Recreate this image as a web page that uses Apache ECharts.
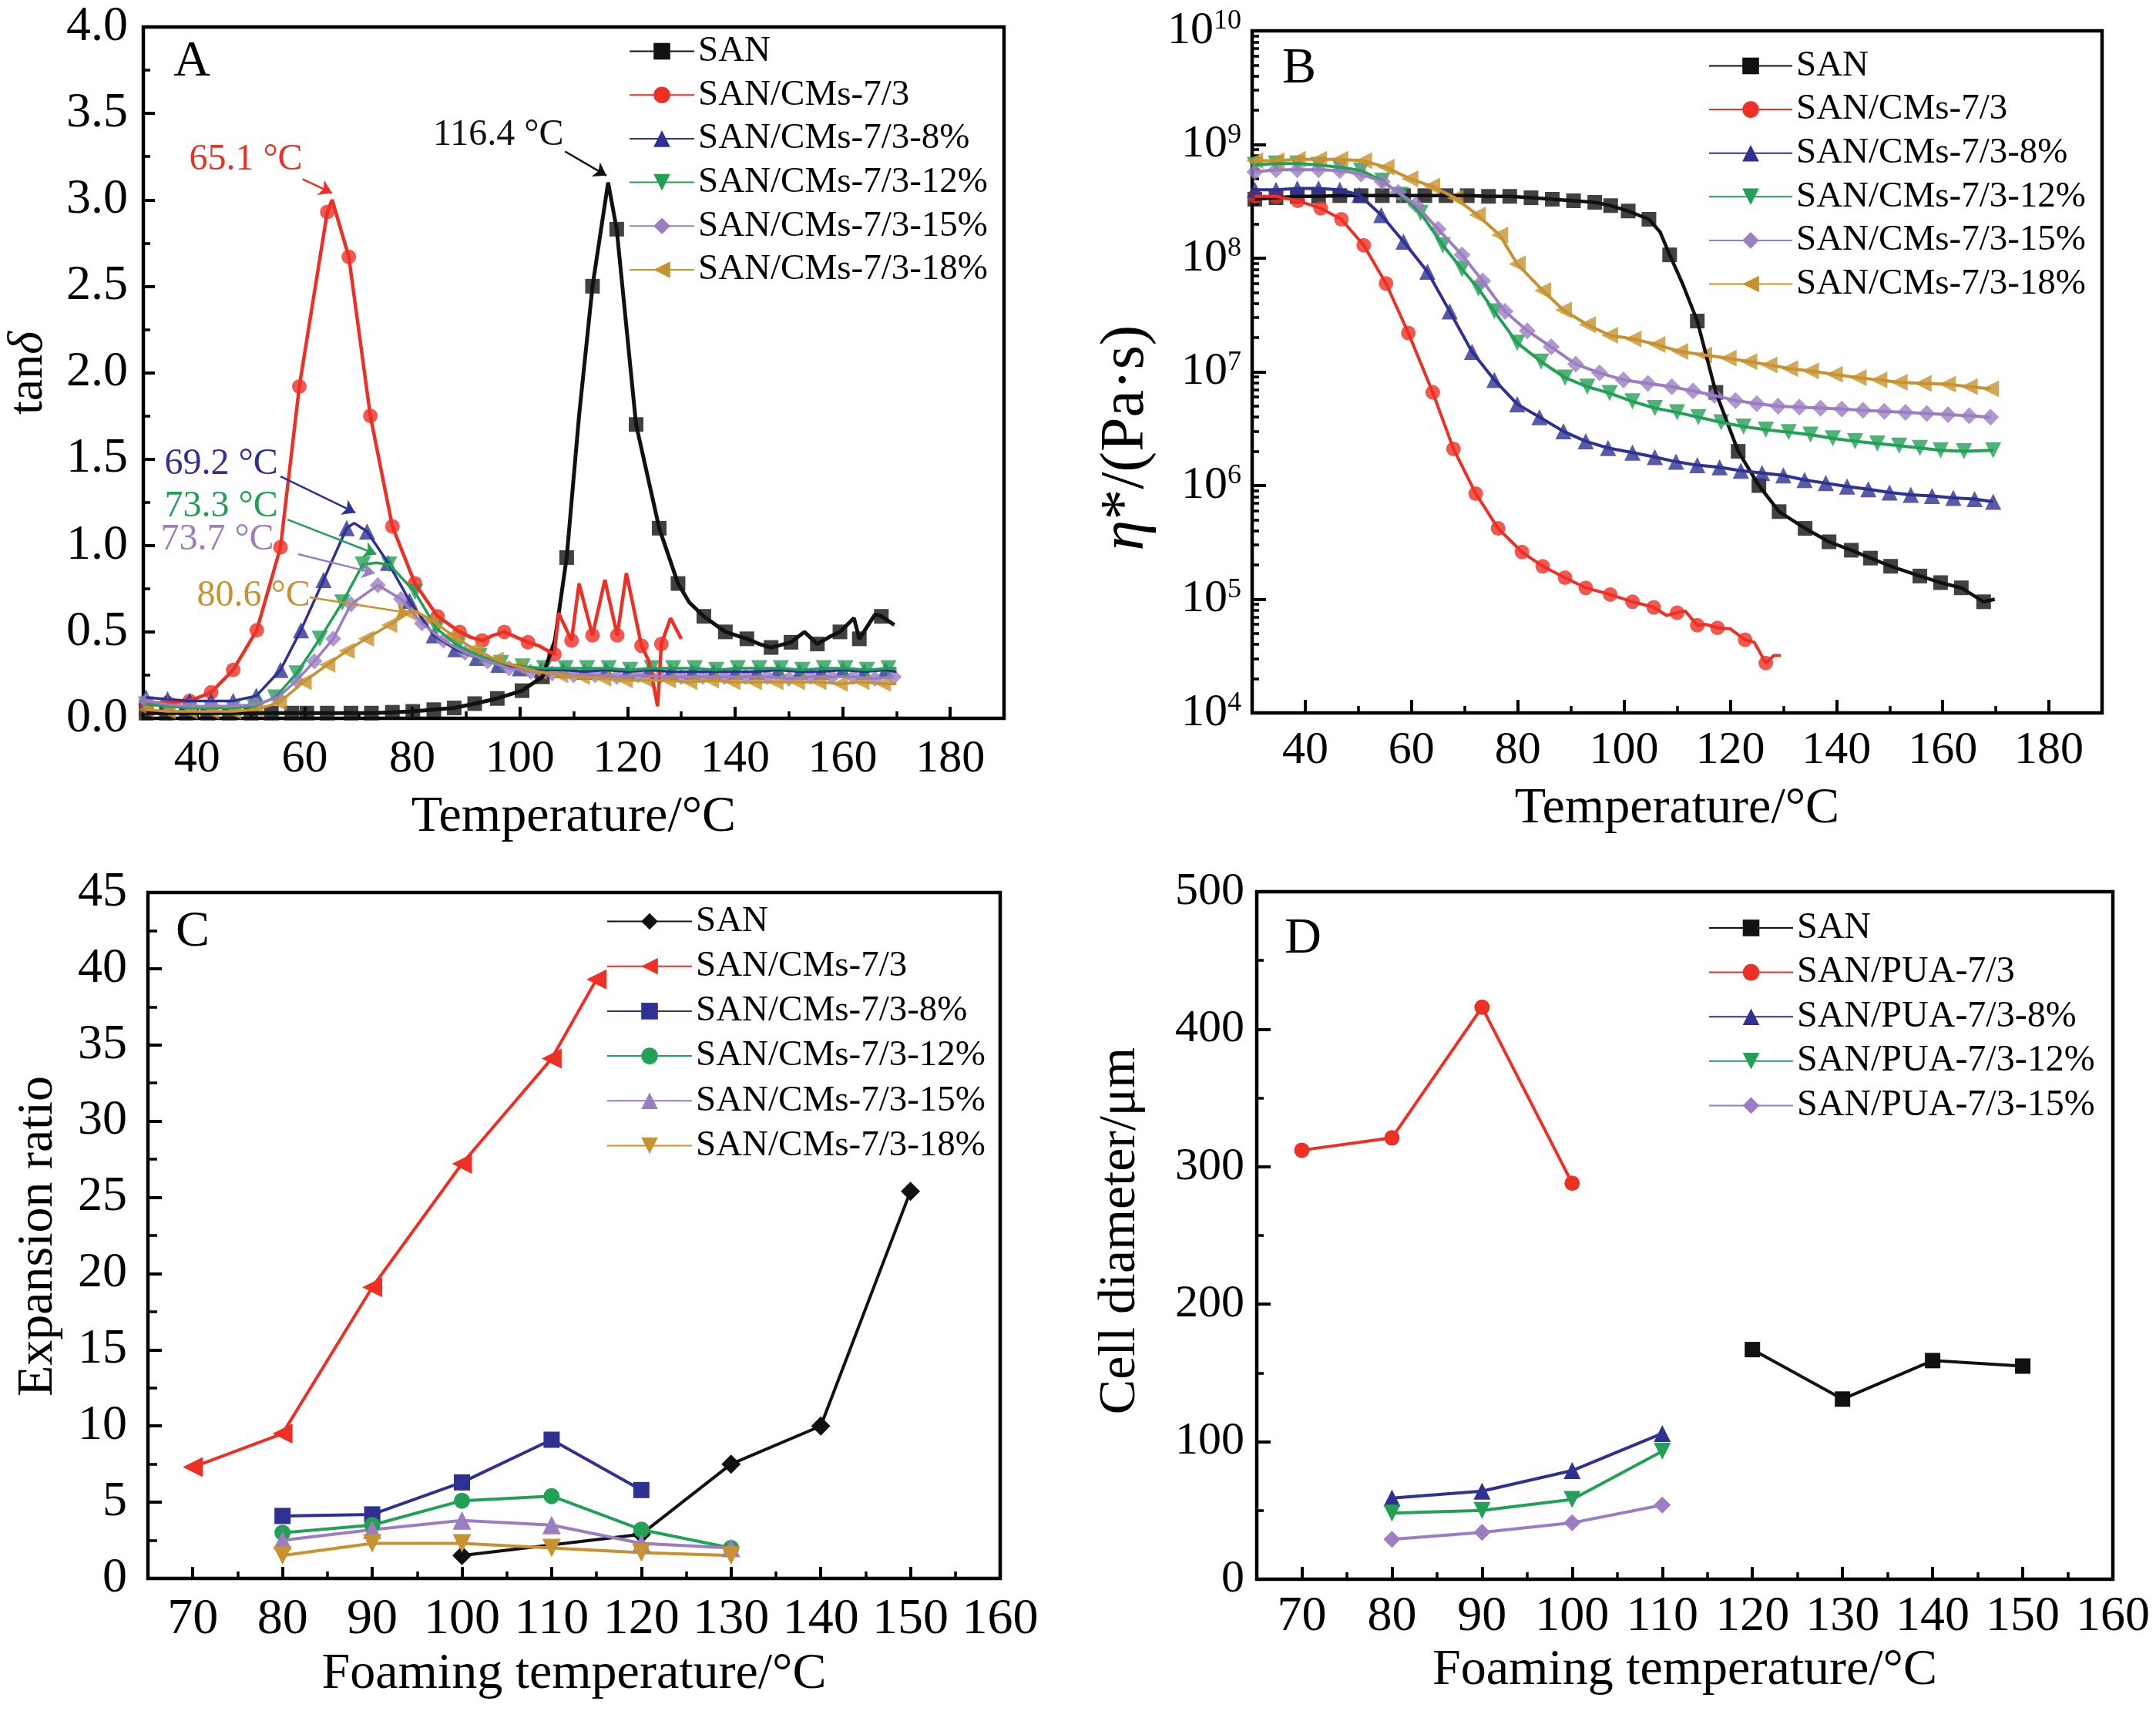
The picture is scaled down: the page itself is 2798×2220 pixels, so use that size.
<!DOCTYPE html>
<html><head><meta charset="utf-8">
<script src="https://cdn.jsdelivr.net/npm/echarts@6/dist/echarts.min.js"></script>
<style>html,body{margin:0;padding:0;background:#fff}#c{width:2798px;height:2220px}</style>
</head><body><div id="c"></div>
<script>
// ---------------- Panel A : tan(delta) vs temperature ----------------
const A_SAN_marks = [[30.5,0.03],[34.3,0.03],[38,0.03],[42,0.03],[46,0.03],[50,0.03],[53.8,0.03],[57.6,0.03],[60.4,0.03],[64.2,0.03],[68.6,0.03],[72.4,0.03],[76.3,0.035],[80.1,0.04],[84,0.05],[87.8,0.06],[91.6,0.085],[95.8,0.115],[100.4,0.16],[104.2,0.24],[108.7,0.93],[113.5,2.5],[118,2.83],[121.6,1.7],[125.9,1.1],[129.4,0.78],[134.2,0.59],[138.2,0.5],[142.2,0.46],[146.7,0.41],[150.4,0.44],[155.3,0.43],[159.5,0.5],[163.1,0.46],[167.2,0.59]];
const A_SAN_extra = [[106.5,0.45],[111,1.75],[116.4,3.1],[131.5,0.67],[144.5,0.43],[152.9,0.5],[157.5,0.47],[162.1,0.58],[166,0.6],[169.6,0.54]];
const A_R_marks = [[30.5,0.09],[34.5,0.09],[38.6,0.1],[42.6,0.15],[46.7,0.28],[51.1,0.51],[55.5,0.99],[59,1.92],[64.2,2.93],[68.2,2.67],[72.2,1.75],[76.3,1.11],[80.5,0.78],[84.7,0.59],[88.8,0.5],[93,0.45],[97.1,0.5],[101.5,0.44],[106.4,0.37],[109.6,0.45],[113.5,0.48],[118.1,0.48],[122.6,0.42],[126.3,0.43]];
const A_R_extra = [[65.1,3.0],[90.8,0.47],[95,0.48],[99.3,0.47],[103.5,0.42],[107.2,0.61],[111,0.78],[115.8,0.8],[119.8,0.84],[124,0.33],[125.6,0.07],[128,0.58],[130,0.46]];
const A_B_marks = [[30.5,0.12],[34.5,0.11],[38.6,0.1],[42.6,0.1],[46.7,0.1],[51,0.13],[55.5,0.28],[59.3,0.51],[63.5,0.8],[67.8,1.1],[71.6,1.08],[75.5,0.9],[79.5,0.68],[84,0.48],[88,0.4],[92,0.35],[96,0.31],[100,0.29],[104,0.28],[108,0.28],[112,0.27],[116,0.28],[120,0.27],[124,0.28],[128,0.27],[132,0.27],[136,0.27],[140,0.27],[144,0.27],[148,0.28],[152,0.27],[156,0.27],[160,0.28],[164,0.27],[168,0.28]];
const A_B_extra = [[69.2,1.13],[170,0.27]];
const A_G_marks = [[30.5,0.08],[34.5,0.07],[38.6,0.06],[42.6,0.06],[46.7,0.06],[50.6,0.07],[54.5,0.12],[58.5,0.26],[62.8,0.46],[67,0.67],[70.8,0.89],[75.7,0.89],[80.5,0.73],[84.5,0.52],[88.5,0.42],[92.5,0.36],[96.5,0.32],[100.5,0.3],[104.5,0.29],[108.5,0.29],[112.5,0.29],[116.5,0.29],[120.5,0.28],[124.5,0.29],[128.5,0.29],[132.5,0.29],[136.5,0.28],[140.5,0.29],[144.5,0.29],[148.5,0.29],[152.5,0.28],[156.5,0.29],[160.5,0.29],[164.5,0.28],[168.5,0.29]];
const A_G_extra = [[73.3,0.9],[170,0.29]];
const A_P_marks = [[30.5,0.1],[34.5,0.08],[38.6,0.07],[42.6,0.07],[46.7,0.07],[50.8,0.08],[55,0.12],[58.5,0.22],[61.8,0.33],[65.3,0.46],[68.6,0.66],[73.6,0.77],[77.9,0.69],[81.8,0.55],[85.8,0.45],[89.8,0.38],[94,0.33],[98,0.29],[102,0.27],[106,0.26],[110,0.25],[114,0.25],[118,0.24],[122,0.25],[126,0.24],[130,0.24],[134,0.24],[138,0.24],[142,0.24],[146,0.24],[150,0.23],[154,0.24],[158,0.24],[162,0.24],[166,0.23],[169.5,0.24]];
const A_P_extra = [];
const A_Y_marks = [[30.5,0.05],[34.5,0.04],[38.6,0.04],[42.6,0.04],[46.7,0.04],[50.8,0.05],[55.2,0.09],[59.8,0.21],[64.2,0.31],[67.8,0.39],[71.4,0.46],[75.7,0.54],[79.3,0.61],[83.5,0.57],[87.5,0.48],[91.5,0.4],[95.5,0.34],[99.5,0.3],[103.5,0.27],[107.5,0.25],[111.5,0.24],[115.5,0.23],[119.5,0.22],[123.5,0.22],[127.5,0.22],[131.5,0.21],[135.5,0.22],[139.5,0.21],[143.5,0.21],[147.5,0.21],[151.5,0.21],[155.5,0.21],[159.5,0.2],[163.5,0.21],[167.5,0.2]];
const A_Y_extra = [[80.6,0.62],[170,0.2]];
const A_X_TICKS = [40,60,80,100,120,140,160,180];
const A_Y_TICKS = [0,0.5,1,1.5,2,2.5,3,3.5,4];
// peak annotations: text, text anchor, arrow start, arrow end (data space)
const A_ANN_TEXT = ['116.4 °C','65.1 °C','69.2 °C','73.3 °C','73.7 °C','80.6 °C'];
const A_ANN_AT = [[96.0,3.376],[49.05,3.233],[44.5,1.47],[44.5,1.226],[43.75,1.035],[50.5,0.709]];
const A_ANN_FROM = [[108.4,3.28],[59.6,3.12],[55.5,1.4],[56.8,1.15],[58.75,0.95],[60.9,0.70]];
const A_ANN_TO = [[116.1,3.14],[65.05,3.04],[69.4,1.19],[73.3,0.95],[73.0,0.84],[79.3,0.61]];

// ---------------- Panel B : complex viscosity vs temperature ----------------
const B_SAN_marks = [[30.5,3.3e8],[34.5,3.4e8],[38.5,3.5e8],[42.5,3.5e8],[46.5,3.55e8],[50.5,3.55e8],[54.5,3.55e8],[58.5,3.55e8],[62.5,3.55e8],[66.5,3.55e8],[70.5,3.55e8],[74.5,3.5e8],[78.5,3.5e8],[82.5,3.4e8],[86.5,3.3e8],[90.5,3.2e8],[94.5,3.1e8],[97.5,2.9e8],[100.8,2.6e8],[104.7,2.2e8],[108.6,1.07e8],[113.8,2.8e7],[117.3,6.6e6],[121.5,2.0e6],[125.4,1.0e6],[129.2,5.9e5],[134.1,4.2e5],[138.6,3.2e5],[142.8,2.7e5],[146.4,2.3e5],[150.2,1.95e5],[155.7,1.6e5],[159.6,1.4e5],[163.5,1.26e5],[167.7,9.5e4]];
const B_SAN_extra = [[106.8,1.7e8],[111,6.0e7],[169.8,1.0e5]];
const B_R_marks = [[30.5,3.5e8],[34.5,3.5e8],[38.6,3.2e8],[42.9,2.75e8],[46.8,2.2e8],[51,1.3e8],[55.2,6.0e7],[59.4,2.2e7],[64,6.6e6],[67.9,2.1e6],[72.1,8.5e5],[76.3,4.2e5],[80.8,2.6e5],[84.7,1.95e5],[88.9,1.55e5],[92.8,1.26e5],[97.4,1.1e5],[101.6,9.5e4],[105.6,8.5e4],[110,7.6e4],[113.8,5.9e4],[117.6,5.6e4],[122.8,4.4e4],[126.7,2.75e4]];
const B_R_extra = [[108,7.2e4],[111.5,7.9e4],[115.5,6.0e4],[120,5.5e4],[124.5,4.2e4],[128.2,3.2e4],[129.5,3.2e4]];
const B_B_marks = [[30.5,4.0e8],[34.5,4.0e8],[38.5,4.1e8],[42.5,4.1e8],[46.5,4.0e8],[50.2,3.6e8],[54.3,2.4e8],[58.5,1.4e8],[63,7.6e7],[67.2,3.4e7],[71.4,1.5e7],[75.6,8.5e6],[79.9,5.2e6],[84.1,4.0e6],[88.6,3.0e6],[92.8,2.45e6],[97,2.14e6],[101.6,1.95e6],[105.8,1.78e6],[109.8,1.62e6],[113.8,1.51e6],[118,1.45e6],[122,1.35e6],[126,1.29e6],[130,1.23e6],[134,1.12e6],[138,1.05e6],[142,9.8e5],[146,9.3e5],[150,8.7e5],[154,8.3e5],[158,8.1e5],[162,7.8e5],[166,7.6e5],[169.5,7.2e5]];
const B_G_marks = [[30.5,6.6e8],[34.5,6.8e8],[38.5,6.8e8],[42.5,6.6e8],[46.5,6.3e8],[50.5,5.9e8],[54.5,4.8e8],[58,3.6e8],[61.7,2.5e8],[65.9,1.3e8],[69.5,8.0e7],[72.6,5.4e7],[75.6,3.4e7],[79.9,1.8e7],[84.4,1.23e7],[88.9,8.9e6],[93.1,7.4e6],[97.3,6.5e6],[101.6,5.5e6],[105.8,4.8e6],[110,4.4e6],[114,4.0e6],[118.3,3.6e6],[122.5,3.3e6],[126.7,3.1e6],[131,2.95e6],[135.1,2.8e6],[139.3,2.6e6],[143.5,2.45e6],[147.7,2.34e6],[151.8,2.24e6],[155.7,2.14e6],[159.6,2.04e6],[164,2.0e6],[169.5,2.04e6]];
const B_P_marks = [[30.5,5.75e8],[34.5,6.0e8],[38.5,6.0e8],[42.5,6.0e8],[46.5,5.9e8],[50.5,5.5e8],[54.5,4.7e8],[57.5,3.8e8],[60.8,2.95e8],[65,1.8e8],[69.5,1.07e8],[73.4,6.3e7],[77.6,3.4e7],[81.8,2.3e7],[86.3,1.66e7],[90.9,1.17e7],[95.4,9.8e6],[99.9,8.5e6],[104.5,7.9e6],[109,7.4e6],[113,6.8e6],[117,6.2e6],[121,5.6e6],[125,5.25e6],[129,5.0e6],[133,4.9e6],[137,4.8e6],[141,4.7e6],[145,4.6e6],[149,4.5e6],[153,4.4e6],[157,4.3e6],[161,4.2e6],[165,4.1e6],[169,4.0e6]];
const B_Y_marks = [[30.5,7.2e8],[34.5,7.2e8],[38.5,7.4e8],[42.5,7.4e8],[46.5,7.4e8],[51,7.2e8],[55.2,6.3e8],[59.7,5.0e8],[63.8,4.3e8],[68.2,3.4e8],[72.4,2.4e8],[76.6,1.6e8],[79.9,8.9e7],[84.7,5.2e7],[88.6,3.5e7],[93.1,2.6e7],[97.3,2.1e7],[101.7,1.95e7],[106.2,1.74e7],[110.5,1.51e7],[115,1.41e7],[119.6,1.32e7],[123.5,1.23e7],[127.3,1.15e7],[131.2,1.07e7],[135.1,1.02e7],[139.6,9.5e6],[144.1,8.9e6],[148,8.5e6],[151.8,8.1e6],[156.3,7.9e6],[160.9,7.8e6],[165,7.4e6],[169,7.1e6]];
const B_X_TICKS = [40,60,80,100,120,140,160,180];

// ---------------- Panel C : expansion ratio vs foaming temperature ----------------
const C_SAN = [[100,1.5],[120,2.9],[130,7.5],[140,10.0],[150,25.4]];
const C_R = [[70,7.3],[80,9.5],[90,19.1],[100,27.2],[110,34.1],[115,39.3]];
const C_B = [[80,4.1],[90,4.2],[100,6.3],[110,9.1],[120,5.8]];
const C_G = [[80,3.0],[90,3.5],[100,5.1],[110,5.4],[120,3.2],[130,2.0]];
const C_P = [[80,2.5],[90,3.2],[100,3.8],[110,3.5],[120,2.3],[130,2.0]];
const C_Y = [[80,1.5],[90,2.3],[100,2.3],[110,2.0],[120,1.7],[130,1.5]];
const CD_X_TICKS = [70,80,90,100,110,120,130,140,150,160];
const C_Y_TICKS = [0,5,10,15,20,25,30,35,40,45];

// ---------------- Panel D : cell diameter vs foaming temperature ----------------
const D_SAN = [[120,167],[130,131],[140,159],[150,155]];
const D_R = [[70,312],[80,321],[90,416],[100,288]];
const D_B = [[80,59],[90,64],[100,79],[110,106]];
const D_G = [[80,48],[90,50],[100,58],[110,93]];
const D_P = [[80,29],[90,34],[100,41],[110,54]];
const D_Y_TICKS = [0,100,200,300,400,500];

const NAMES_ABC = ['SAN','SAN/CMs-7/3','SAN/CMs-7/3-8%','SAN/CMs-7/3-12%','SAN/CMs-7/3-15%','SAN/CMs-7/3-18%'];
const NAMES_D = ['SAN','SAN/PUA-7/3','SAN/PUA-7/3-8%','SAN/PUA-7/3-12%','SAN/PUA-7/3-15%'];

// ---------------- styling ----------------
const FF = '"Liberation Serif","Times New Roman",serif';
const COL = ['#111111','#ee2f24','#2e3192','#22a056','#9b7ec2','#c7922f'];
const BLACK = '#000';

function range(a, b, s) { const r = []; for (let v = a; v <= b + 1e-9; v += s) r.push(+v.toFixed(6)); return r; }

const chart = echarts.init(document.getElementById('c'), null, {renderer: 'canvas'});

const grids = [
  {left: 186, top: 35, width: 1117, height: 897},
  {left: 1625, top: 40, width: 1103, height: 885},
  {left: 192, top: 1158, width: 1106, height: 890},
  {left: 1631, top: 1157, width: 1111, height: 892}
].map(g => Object.assign({show: true, borderColor: BLACK, borderWidth: 4.5, backgroundColor: 'transparent'}, g));

function xMain(gi, min, max, ticks, fs, margin, name, gap, tlen) {
  return {type: 'value', gridIndex: gi, min, max, position: 'bottom',
    axisLine: {show: false}, splitLine: {show: false},
    axisTick: {show: true, inside: true, length: tlen, lineStyle: {color: BLACK, width: 4}, customValues: ticks},
    axisLabel: {show: true, customValues: ticks, fontSize: fs, fontFamily: FF, color: BLACK, margin},
    name, nameLocation: 'middle', nameGap: gap, nameTextStyle: {fontSize: 66, fontFamily: FF, color: BLACK}};
}
function xMinor(gi, min, max, ticks, tlen) {
  return {type: 'value', gridIndex: gi, min, max, position: 'bottom',
    axisLine: {show: false}, splitLine: {show: false}, axisLabel: {show: false},
    axisTick: {show: true, inside: true, length: tlen, lineStyle: {color: BLACK, width: 3.5}, customValues: ticks}};
}
function yMain(gi, min, max, ticks, fs, margin, tlen, fmt) {
  return {type: 'value', gridIndex: gi, min, max, position: 'left',
    axisLine: {show: false}, splitLine: {show: false},
    axisTick: {show: true, inside: true, length: tlen, lineStyle: {color: BLACK, width: 4}, customValues: ticks},
    axisLabel: {show: true, customValues: ticks, fontSize: fs, fontFamily: FF, color: BLACK, margin, formatter: fmt}};
}
function yMinor(gi, min, max, ticks, tlen) {
  return {type: 'value', gridIndex: gi, min, max, position: 'left',
    axisLine: {show: false}, splitLine: {show: false}, axisLabel: {show: false},
    axisTick: {show: true, inside: true, length: tlen, lineStyle: {color: BLACK, width: 3.5}, customValues: ticks}};
}

// minor tick positions for the log axis of panel B (drawn on a hidden linear axis in decades)
const B_MINOR = [];
for (let e = 4; e < 10; e++) for (let k = 2; k <= 9; k++) B_MINOR.push(e + Math.log10(k));

const xAxes = [
  xMain(0, 30, 190, A_X_TICKS, 60, 23, 'Temperature/°C', 96, 15),
  xMinor(0, 30, 190, range(50, 170, 20), 9),
  xMain(1, 30, 190, B_X_TICKS, 60, 19, 'Temperature/°C', 92, 17),
  xMinor(1, 30, 190, range(50, 170, 20), 9),
  xMain(2, 65, 160, CD_X_TICKS, 66, 21, 'Foaming temperature/°C', 92, 15),
  xMinor(2, 65, 160, range(75, 155, 10), 9),
  xMain(3, 65, 160, CD_X_TICKS, 64, 17, 'Foaming temperature/°C', 86, 16),
  xMinor(3, 65, 160, range(75, 155, 10), 9)
];
const yAxes = [
  yMain(0, 0, 4, A_Y_TICKS, 64, 20, 15, v => v.toFixed(1)),
  yMinor(0, 0, 4, range(0.25, 3.75, 0.5), 9),
  {type: 'log', logBase: 10, gridIndex: 1, min: 1e4, max: 1e10, position: 'left', splitNumber: 6,
    axisLine: {show: false}, splitLine: {show: false},
    axisTick: {show: true, inside: true, length: 18, lineStyle: {color: BLACK, width: 4}},
    axisLabel: {show: true, margin: 14, fontSize: 60, fontFamily: FF, color: BLACK,
      formatter: v => '10{s|' + Math.round(Math.log10(v)) + '}',
      rich: {s: {fontSize: 36, fontFamily: FF, color: BLACK, verticalAlign: 'top'}}}},
  yMinor(1, 4, 10, B_MINOR, 9),
  yMain(2, 0, 45, C_Y_TICKS, 64, 27, 18, v => String(v)),
  yMinor(2, 0, 45, range(2.5, 42.5, 5), 12),
  yMain(3, 0, 500, D_Y_TICKS, 60, 16, 18, v => String(v)),
  yMinor(3, 0, 500, range(50, 450, 100), 9)
];

const series = [];
function pair(panel, xi, yi, name, marks, extra, sym, rot, size, lw, color) {
  const all = marks.concat(extra).sort((a, b) => a[0] - b[0]);
  const nm = panel + ':' + name;
  const line = {type: 'line', name: nm, xAxisIndex: xi, yAxisIndex: yi, data: all,
    showSymbol: false, symbol: sym, symbolRotate: rot, symbolSize: size,
    lineStyle: {color, width: lw}, itemStyle: {color}, silent: true, animation: false};
  const sc = {type: 'scatter', name: nm, xAxisIndex: xi, yAxisIndex: yi, data: marks,
    symbol: sym, symbolRotate: rot, symbolSize: size, itemStyle: {color}, silent: true, animation: false};
  series.push(line, sc);
  return sc;
}
function simple(panel, xi, yi, name, data, sym, rot, size, lw, color) {
  series.push({type: 'line', name: panel + ':' + name, xAxisIndex: xi, yAxisIndex: yi, data,
    showSymbol: true, symbol: sym, symbolRotate: rot, symbolSize: size,
    lineStyle: {color, width: lw}, itemStyle: {color}, silent: true, animation: false});
}

// Panel A
const A_DEF = [
  [A_SAN_marks, A_SAN_extra, 'rect', 0, 19, 5],
  [A_R_marks, A_R_extra, 'circle', 0, 19, 4.5],
  [A_B_marks, A_B_extra, 'triangle', 0, 21, 3.5],
  [A_G_marks, A_G_extra, 'triangle', 180, 21, 3.5],
  [A_P_marks, A_P_extra, 'diamond', 0, 21, 3.5],
  [A_Y_marks, A_Y_extra, 'triangle', 90, 21, 3.5]
];
A_DEF.forEach((d, i) => {
  const sc = pair('A', 0, 0, NAMES_ABC[i], d[0], d[1], d[2], d[3], d[4], d[5], COL[i]);
  sc.markLine = {silent: true, animation: false, symbol: ['none', 'arrow'], symbolSize: 16,
    lineStyle: {color: COL[i], width: 2.5, type: 'solid'}, label: {show: false},
    data: [[{coord: A_ANN_FROM[i]}, {coord: A_ANN_TO[i]}]]};
  sc.markPoint = {silent: true, animation: false, symbol: 'circle', symbolSize: 1,
    itemStyle: {color: 'rgba(0,0,0,0)'},
    label: {show: true, position: 'inside', formatter: A_ANN_TEXT[i], color: COL[i], fontSize: 48, fontFamily: FF},
    data: [{coord: A_ANN_AT[i]}]};
});

// Panel B
const B_DEF = [
  [B_SAN_marks, B_SAN_extra, 'rect', 0, 19, 4.5],
  [B_R_marks, B_R_extra, 'circle', 0, 19, 4],
  [B_B_marks, [], 'triangle', 0, 21, 4],
  [B_G_marks, [], 'triangle', 180, 21, 4],
  [B_P_marks, [], 'diamond', 0, 22, 4],
  [B_Y_marks, [], 'triangle', 90, 22, 4]
];
B_DEF.forEach((d, i) => pair('B', 2, 2, NAMES_ABC[i], d[0], d[1], d[2], d[3], d[4], d[5], COL[i]));

// Panel C
const C_DEF = [
  [C_SAN, 'diamond', 0, 25], [C_R, 'triangle', 90, 26], [C_B, 'rect', 0, 21],
  [C_G, 'circle', 0, 21], [C_P, 'triangle', 0, 24], [C_Y, 'triangle', 180, 24]
];
C_DEF.forEach((d, i) => simple('C', 4, 4, NAMES_ABC[i], d[0], d[1], d[2], d[3], 4, COL[i]));

// Panel D
const D_DEF = [
  [D_SAN, 'rect', 0, 20], [D_R, 'circle', 0, 20], [D_B, 'triangle', 0, 22],
  [D_G, 'triangle', 180, 22], [D_P, 'diamond', 0, 22]
];
D_DEF.forEach((d, i) => simple('D', 6, 6, NAMES_D[i], d[0], d[1], d[2], d[3], 4, COL[i]));

function legend(panel, names, left, top, iw, gap, fs) {
  return {data: names.map(n => panel + ':' + n), orient: 'vertical', left, top, padding: 0,
    itemWidth: iw, itemHeight: 27, itemGap: gap, selectedMode: false,
    formatter: n => n.slice(2),
    textStyle: {fontSize: fs, fontFamily: FF, color: BLACK}};
}

function gtext(x, y, text, fs, rot, rich) {
  const el = {type: 'text', x, y, silent: true,
    style: {text, fontSize: fs, fontFamily: FF, fill: BLACK, align: 'center', verticalAlign: 'middle',
      textAlign: 'center', textVerticalAlign: 'middle'}};
  if (rot) el.rotation = rot;
  if (rich) el.style.rich = rich;
  return el;
}
const ital = fs => ({i: {fontStyle: 'italic', fontSize: fs, fontFamily: FF, fill: BLACK}});

chart.setOption({
  animation: false,
  backgroundColor: '#fff',
  grid: grids,
  xAxis: xAxes,
  yAxis: yAxes,
  series,
  legend: [
    legend('A', NAMES_ABC, 816, 43, 84, 9.7, 47),
    legend('B', NAMES_ABC, 2217, 62, 108, 9.6, 47),
    legend('C', NAMES_ABC, 787, 1172, 110, 11.2, 47),
    legend('D', NAMES_D, 2217, 1180, 109, 9.6, 48)
  ],
  graphic: [
    gtext(249, 81, 'A', 66),
    gtext(1686, 90, 'B', 66),
    gtext(250, 1210, 'C', 66),
    gtext(1691, 1219, 'D', 66),
    gtext(37, 484, 'tan{i|δ}', 64, Math.PI / 2, ital(64)),
    gtext(1462, 568, '{i|η}*/(Pa·s)', 80, Math.PI / 2, ital(80)),
    gtext(50, 1604, 'Expansion ratio', 66, Math.PI / 2),
    gtext(1454, 1597, 'Cell diameter/μm', 68, Math.PI / 2)
  ]
});
</script></body></html>
